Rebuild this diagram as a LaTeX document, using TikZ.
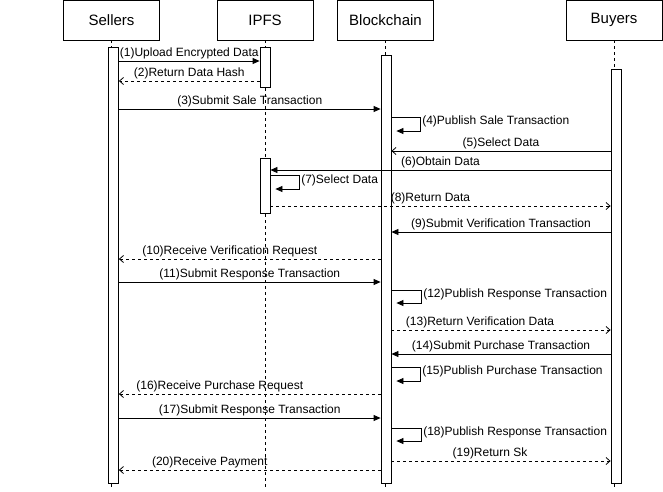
\documentclass[tikz,border=0pt]{standalone}
\usepackage{fontspec}
\setmainfont{Liberation Sans}
\usetikzlibrary{arrows.meta}

\begin{document}
\begin{tikzpicture}[x=1pt, y=-1pt, line width=0.8pt,
  head/.style={draw, minimum width=96pt, minimum height=40pt, inner sep=0pt, font=\fontsize{15}{18}\selectfont},
  bar/.style={draw, fill=white, minimum width=10pt, inner sep=0pt},
  life/.style={dash pattern=on 3pt off 3pt},
  lbl/.style={above, inner sep=1.5pt, font=\fontsize{12}{14}\selectfont},
  side/.style={right, inner sep=1.5pt, font=\fontsize{12}{14}\selectfont},
  call/.style={-{Triangle[length=7pt,width=6pt]}},
  query/.style={-{Straight Barb[length=4pt,width=7pt]}},
  reply/.style={-{Straight Barb[length=4pt,width=7pt]}, dash pattern=on 3pt off 3pt},
  selfcall/.style={-{Triangle[length=7pt,width=6pt]}, rounded corners=0pt}]
\useasboundingbox (0,0) rectangle (663,491);

% participants
\node[head] (sellers) at (111.5,20) {Sellers};
\node[head] (ipfs) at (265,20) {IPFS};
\node[head] (chain) at (385.5,20) {Blockchain};
\node[head] (buyers) at (614,20) {Buyers};

\coordinate (sellersend) at (111.5,490);
\coordinate (ipfsend) at (265,490);
\coordinate (chainend) at (385.5,490);
\coordinate (buyersend) at (614,490);

\draw[life] (sellers.south) -- (sellersend);
\draw[life] (ipfs.south) -- (ipfsend);
\draw[life] (chain.south) -- (chainend);
\draw[life] (buyers.south) -- (buyersend);

% activations
\node[bar, minimum height=436pt] (sellersbar) at (113.5,265) {};
\node[bar, minimum height=40pt] (ipfsbarA) at (265,67.5) {};
\node[bar, minimum height=55pt] (ipfsbarB) at (265,185.5) {};
\node[bar, minimum height=427.5pt] (chainbar) at (386,269.25) {};
\node[bar, minimum height=414pt] (buyersbar) at (616,276) {};

% messages
\draw[call] (sellersbar.east |- 0,61) -- node[lbl] {(1)Upload Encrypted Data} (ipfsbarA.west |- 0,61);
\draw[reply] (ipfsbarA.west |- 0,81) -- node[lbl] {(2)Return Data Hash} (sellersbar.east |- 0,81);
\draw[call] (sellersbar.east |- 0,109) -- node[lbl] {(3)Submit Sale Transaction} (chainbar.west |- 0,109);
\draw[selfcall] (chainbar.east |- 0,117) -- ++(29,0) -- node[side, pos=0.3] {(4)Publish Sale Transaction} ++(0,14) -- ++(-24,0);
\draw[query] (buyersbar.west |- 0,151) -- node[lbl] {(5)Select Data} (chainbar.east |- 0,151);
\draw[call] (buyersbar.west |- 0,170) -- node[lbl] {(6)Obtain Data} (ipfsbarB.east |- 0,170);
\draw[selfcall] (ipfsbarB.east |- 0,175) -- ++(29,0) -- node[side, pos=0.35] {(7)Select Data} ++(0,14) -- ++(-24,0);
\draw[reply] (ipfsbarB.east |- 0,206) -- node[lbl, xshift=-10pt] {(8)Return Data} (buyersbar.west |- 0,206);
\draw[call] (buyersbar.west |- 0,232) -- node[lbl] {(9)Submit Verification Transaction} (chainbar.east |- 0,232);
\draw[reply] (chainbar.west |- 0,259) -- node[lbl, xshift=-20pt] {(10)Receive Verification Request} (sellersbar.east |- 0,259);
\draw[call] (sellersbar.east |- 0,282) -- node[lbl] {(11)Submit Response Transaction} (chainbar.west |- 0,282);
\draw[selfcall] (chainbar.east |- 0,290) -- ++(30,0) -- node[side, pos=0.3] {(12)Publish Response Transaction} ++(0,13) -- ++(-25,0);
\draw[reply] (chainbar.east |- 0,330) -- node[lbl, xshift=-21pt] {(13)Return Verification Data} (buyersbar.west |- 0,330);
\draw[call] (buyersbar.west |- 0,354) -- node[lbl] {(14)Submit Purchase Transaction} (chainbar.east |- 0,354);
\draw[selfcall] (chainbar.east |- 0,367) -- ++(29,0) -- node[side, pos=0.3] {(15)Publish Purchase Transaction} ++(0,14) -- ++(-24,0);
\draw[reply] (chainbar.west |- 0,394) -- node[lbl, xshift=-30pt] {(16)Receive Purchase Request} (sellersbar.east |- 0,394);
\draw[call] (sellersbar.east |- 0,418) -- node[lbl] {(17)Submit Response Transaction} (chainbar.west |- 0,418);
\draw[selfcall] (chainbar.east |- 0,428) -- ++(30,0) -- node[side, pos=0.3] {(18)Publish Response Transaction} ++(0,13) -- ++(-25,0);
\draw[reply] (chainbar.east |- 0,461) -- node[lbl, xshift=-11pt] {(19)Return Sk} (buyersbar.west |- 0,461);
\draw[reply] (chainbar.west |- 0,470) -- node[lbl, xshift=-40pt] {(20)Receive Payment} (sellersbar.east |- 0,470);
\end{tikzpicture}
\end{document}
